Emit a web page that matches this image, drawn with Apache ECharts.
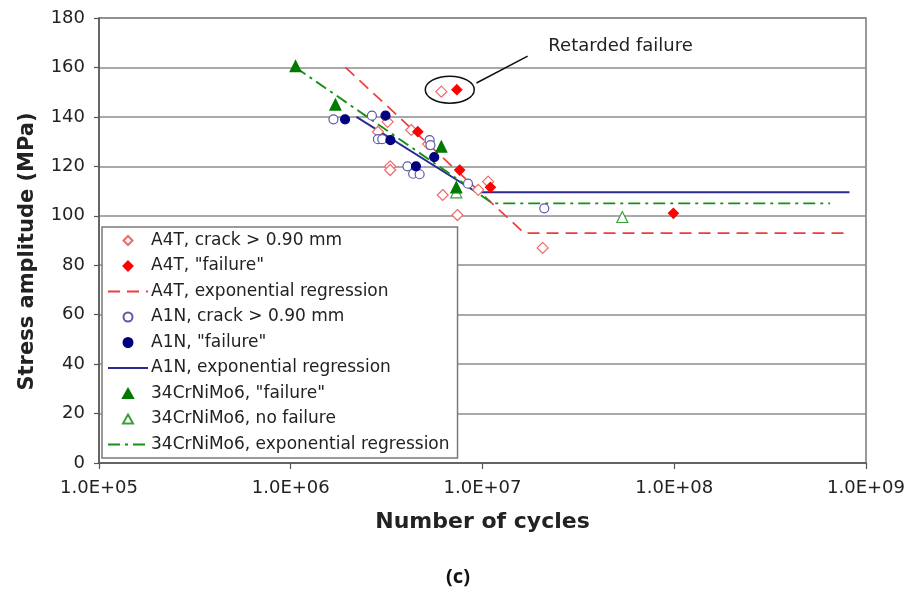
<!DOCTYPE html>
<html>
<head>
<meta charset="utf-8">
<script src="https://cdn.jsdelivr.net/npm/echarts@6/dist/echarts.min.js"></script>
<style>
  html, body { margin: 0; padding: 0; background: #fff; }
  #chart { width: 915px; height: 600px; }
</style>
</head>
<body>
<div id="chart"></div>
<script>
// S-N data: [number of cycles, stress amplitude in MPa]
const a4tCrack = [
  [2.85e6, 134], [3.2e6, 138], [3.3e6, 120], [3.3e6, 118.5], [4.25e6, 134.7],
  [5.2e6, 129], [6.2e6, 108.4], [7.4e6, 100.3], [9.5e6, 110.5], [1.07e7, 113.8],
  [2.06e7, 87], [6.1e6, 150.2]
];
const a4tFailure = [
  [4.6e6, 134], [7.6e6, 118.5], [1.1e7, 111.5], [9.9e7, 101], [7.35e6, 151]
];
const a4tRegression = [[1.93e6, 160], [1.65e7, 93], [8.0e8, 93]];

const a1nCrack = [
  [1.67e6, 139], [2.65e6, 140.5], [2.85e6, 131], [3.0e6, 131], [4.06e6, 120],
  [4.35e6, 117], [4.7e6, 116.8], [5.3e6, 130.6], [5.35e6, 128.6], [8.4e6, 113],
  [2.1e7, 103]
];
const a1nFailure = [
  [1.92e6, 139], [3.12e6, 140.5], [3.31e6, 130.6], [4.5e6, 120], [5.6e6, 123.7]
];
const a1nRegression = [[2.2e6, 140], [9.3e6, 109.5], [8.2e8, 109.5]];

const crniFailure = [[1.06e6, 160.5], [1.71e6, 145], [6.1e6, 128], [7.3e6, 111.5]];
const crniNoFailure = [[7.3e6, 109.5], [5.36e7, 99.5]];
const crniRegression = [[1.06e6, 160], [1.13e7, 105], [6.5e8, 105]];

// axis tick labels
const xTickLabels = ['1.0E+05', '1.0E+06', '1.0E+07', '1.0E+08', '1.0E+09'];
const xTickExponents = [5, 6, 7, 8, 9];

// "Retarded failure" callout, in data coordinates
const calloutCenter = [6.75e6, 151];
const calloutLine = [[9.3e6, 153.7], [1.72e7, 164.6]];
const calloutTextPos = [5.25e7, 168.7];
const calloutText = 'Retarded failure';

const FONT = '"DejaVu Sans", Verdana, sans-serif';

// small legend markers that keep their aspect ratio inside the wide legend slot
const ICON_DIAMOND = 'path://M5,0L10,5L5,10L0,5Z';
const ICON_CIRCLE = 'path://M5,0A5,5 0 1,1 5,10A5,5 0 1,1 5,0Z';
const ICON_TRIANGLE = 'path://M5,0L10,9L0,9Z';

const chart = echarts.init(document.getElementById('chart'), null, { renderer: 'canvas' });

function scatter(name, data, symbol, size, fill, border) {
  return {
    name, type: 'scatter', data, symbol, symbolSize: size,
    itemStyle: { color: fill, borderColor: border, borderWidth: 1.2, opacity: 1 },
    z: 5
  };
}
function regression(name, data, color, type, width) {
  return {
    name, type: 'line', data, symbol: 'none', smooth: false,
    lineStyle: { color, type, width },
    itemStyle: { color },
    z: 4
  };
}

const option = {
  animation: false,
  backgroundColor: '#fff',
  grid: {
    left: 99, right: 49, top: 18, bottom: 137,
    show: true, borderColor: '#7a7a7a', borderWidth: 1.5, backgroundColor: 'transparent'
  },
  xAxis: {
    type: 'log', logBase: 10, min: 1e5, max: 1e9,
    name: 'Number of cycles', nameLocation: 'middle', nameGap: 48,
    nameTextStyle: { fontFamily: FONT, fontSize: 22, fontWeight: 'bold', color: '#222' },
    axisLine: { show: true, lineStyle: { color: '#555', width: 1.5 } },
    axisTick: { show: true, length: 6, lineStyle: { color: '#555', width: 1.2 } },
    minorTick: { show: false },
    splitLine: { show: false },
    axisLabel: {
      fontFamily: FONT, fontSize: 18, color: '#222', margin: 16,
      formatter: v => {
        const i = xTickExponents.indexOf(Math.round(Math.log10(v)));
        return i >= 0 ? xTickLabels[i] : '';
      }
    }
  },
  yAxis: {
    type: 'value', min: 0, max: 180, interval: 20,
    name: 'Stress amplitude (MPa)', nameLocation: 'middle', nameGap: 61,
    nameTextStyle: {
      fontFamily: FONT, fontSize: 21, fontWeight: 'bold', color: '#222',
      padding: [0, 22, 0, 0]
    },
    axisLine: { show: true, lineStyle: { color: '#555', width: 1.5 } },
    axisTick: { show: true, length: 5, lineStyle: { color: '#555', width: 1.2 } },
    splitLine: { show: true, lineStyle: { color: '#8c8c8c', width: 1.5 } },
    axisLabel: { fontFamily: FONT, fontSize: 18, color: '#222', margin: 14 }
  },
  legend: {
    orient: 'vertical', left: 102, top: 227,
    padding: [5, 8, 5, 5],
    itemWidth: 40, itemHeight: 9, itemGap: 8.5,
    backgroundColor: '#fff', borderColor: '#7a7a7a', borderWidth: 1.5,
    textStyle: { fontFamily: FONT, fontSize: 17, color: '#222', padding: [0, 0, 0, -2] },
    data: [
      { name: 'A4T, crack > 0.90 mm', icon: ICON_DIAMOND },
      { name: 'A4T, "failure"', icon: ICON_DIAMOND },
      { name: 'A4T, exponential regression', itemStyle: { opacity: 0 } },
      { name: 'A1N, crack > 0.90 mm', icon: ICON_CIRCLE },
      { name: 'A1N, "failure"', icon: ICON_CIRCLE },
      { name: 'A1N, exponential regression', itemStyle: { opacity: 0 } },
      { name: '34CrNiMo6, "failure"', icon: ICON_TRIANGLE },
      { name: '34CrNiMo6, no failure', icon: ICON_TRIANGLE },
      { name: '34CrNiMo6, exponential regression', itemStyle: { opacity: 0 } }
    ]
  },
  series: [
    regression('A4T, exponential regression', a4tRegression, '#f03c3c', [12, 7], 1.7),
    regression('A1N, exponential regression', a1nRegression, '#2a2a90', 'solid', 1.9),
    regression('34CrNiMo6, exponential regression', crniRegression, '#169116', [12, 5, 3, 5], 1.9),
    scatter('A4T, crack > 0.90 mm', a4tCrack, 'diamond', 11, '#fff', '#ee6b6b'),
    scatter('A1N, crack > 0.90 mm', a1nCrack, 'circle', 9, '#fff', '#5a5aa8'),
    scatter('34CrNiMo6, no failure', crniNoFailure, 'triangle', 11, '#fff', '#3aa03a'),
    scatter('A4T, "failure"', a4tFailure, 'diamond', 10, '#ff0000', '#ff0000'),
    scatter('A1N, "failure"', a1nFailure, 'circle', 9, '#000080', '#000080'),
    scatter('34CrNiMo6, "failure"', crniFailure, 'triangle', 11, '#007a00', '#007a00')
  ]
};
chart.setOption(option);

// callout ellipse, leader line and label, placed through the axes
const c = chart.convertToPixel({ gridIndex: 0 }, calloutCenter);
const l0 = chart.convertToPixel({ gridIndex: 0 }, calloutLine[0]);
const l1 = chart.convertToPixel({ gridIndex: 0 }, calloutLine[1]);
const tp = chart.convertToPixel({ gridIndex: 0 }, calloutTextPos);
chart.setOption({
  graphic: [
    {
      type: 'ellipse', shape: { cx: c[0], cy: c[1], rx: 24.5, ry: 13.5 },
      style: { fill: 'none', stroke: '#111', lineWidth: 1.5 }, z: 10
    },
    {
      type: 'line', shape: { x1: l0[0], y1: l0[1], x2: l1[0], y2: l1[1] },
      style: { stroke: '#111', lineWidth: 1.5 }, z: 10
    },
    {
      type: 'text', x: tp[0], y: tp[1],
      style: {
        text: calloutText, fill: '#222', font: '18px ' + FONT,
        align: 'center', verticalAlign: 'middle', backgroundColor: '#fff', padding: [1, 3]
      }, z: 10
    },
    {
      type: 'text', x: 458, y: 577,
      style: {
        text: '(c)', fill: '#111', font: 'bold 20px "Noto Sans", "Open Sans", sans-serif',
        align: 'center', verticalAlign: 'middle'
      }
    }
  ]
});
</script>
</body>
</html>
